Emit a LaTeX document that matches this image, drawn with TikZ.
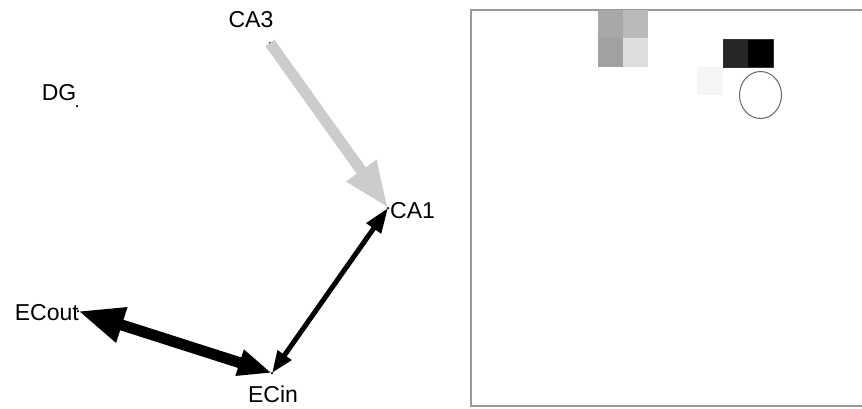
\documentclass[tikz,border=0pt]{standalone}
\usepackage{fontspec}
\setmainfont{Liberation Sans}
\usetikzlibrary{arrows.meta,shapes.geometric}
\begin{document}
\begin{tikzpicture}[x=1pt,y=-1pt,
  lbl/.style={inner sep=0pt,font=\fontsize{23}{23}\selectfont},
  pt/.style={circle,fill=black,inner sep=0pt,minimum size=2.5pt}]
\useasboundingbox (0,0) rectangle (862,408);
% points
\node[pt] (ca3) at (270,43) {};
\node[pt] (dg) at (77,106) {};
\node[pt] (ca1) at (388,208) {};
\node[pt] (ecout) at (78,311) {};
\node[pt] (ecin) at (272,373) {};
% labels
\node[lbl] (lca3) at (251,20) {CA3};
\node[lbl] (ldg) at (59,93) {DG};
\node[lbl,anchor=west] (lca1) at (390,211) {CA1};
\node[lbl,anchor=east] (lecout) at (79,313) {ECout};
\node[lbl] (lecin) at (273,394) {ECin};
% connectors
\draw[line width=11pt,color=black!20,-{Triangle[length=46pt,width=34pt]}] (ca3.center) -- (ca1.center);
\draw[line width=5pt,{Triangle[length=22pt,width=16pt]}-{Triangle[length=25pt,width=17pt]}] (ecin.center) -- (ca1.center);
\draw[line width=11pt,{Triangle[length=34pt,width=25pt]}-{Triangle[length=46pt,width=34pt]}] (ecin.center) -- (ecout.center);
% right panel
\draw[draw=black!40,line width=1.8pt] (900,10) -- (471,10) -- (471,406) -- (900,406);
\fill[fill=black!34] (598,10) rectangle (623,38);
\fill[fill=black!27] (623,10) rectangle (648,38);
\fill[fill=black!37] (598,38) rectangle (623,67);
\fill[fill=black!13] (623,38) rectangle (648,67);
\fill[fill=black!85] (723,39) rectangle (748,67);
\fill[fill=black] (748,39) rectangle (773,67);
\draw[black!80,line width=0.6pt] (723,39) rectangle (773,67);
\fill[fill=black!4] (697,67) rectangle (723,95);
\node[draw=black!60,line width=1pt,ellipse,minimum width=42pt,minimum height=47pt,inner sep=0pt] (ell) at (760.5,95) {};
\end{tikzpicture}
\end{document}
